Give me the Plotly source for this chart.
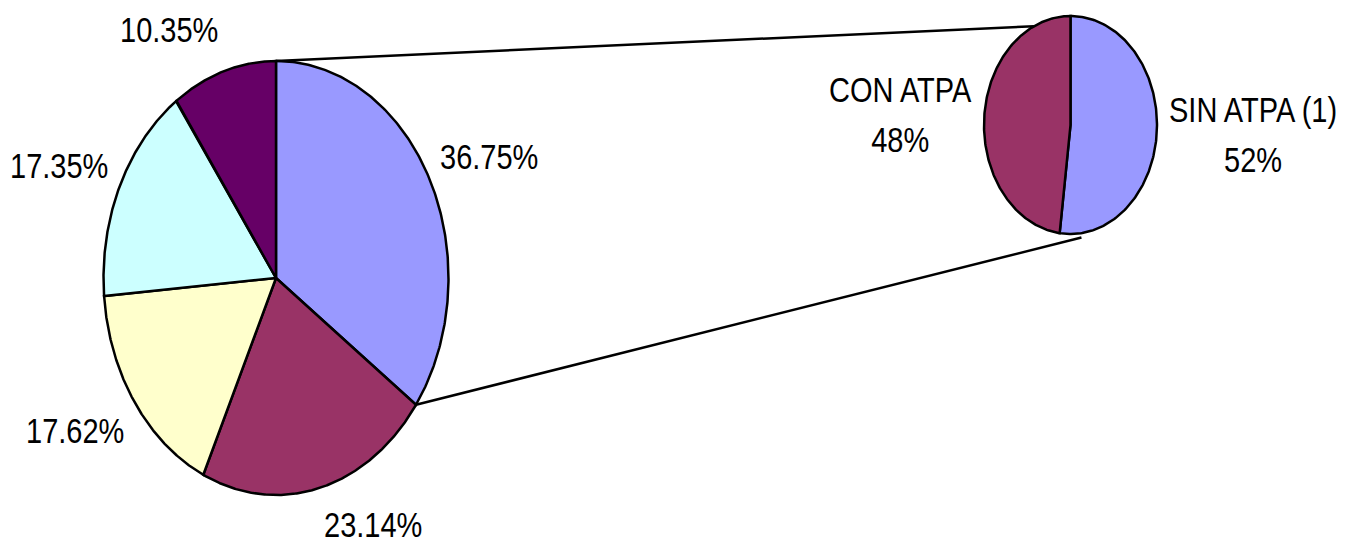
import numpy as np
import plotly.graph_objects as go

# ---- data ----
main_values = [36.75, 23.14, 17.62, 17.35, 10.35]
main_colors = ["#9999FF", "#993366", "#FFFFCC", "#CCFFFF", "#660066"]

sub_labels = ["SIN ATPA (1)", "CON ATPA"]
sub_values = [52, 48]
sub_colors = ["#9999FF", "#993366"]

# ---- layout constants (pixel space) ----
W, H = 1354, 546
MAIN = dict(cx=276, cy=278, rx=172.5, ry=217)
SUB = dict(cx=1070.5, cy=125, rx=86.5, ry=109)
PAD_X, PAD_Y, PAD_Y_MID = 10, 22, 45
FONT = dict(family="Liberation Sans, Arial", size=29, color="black")


def pt(p, ang, k=1.0):
    t = np.radians(ang)
    return p["cx"] + k * p["rx"] * np.sin(t), p["cy"] - k * p["ry"] * np.cos(t)


def wedges(fig, p, values, colors):
    vals = np.asarray(values, dtype=float)
    cum = np.concatenate([[0], np.cumsum(vals)]) / vals.sum() * 360.0
    for i, col in enumerate(colors):
        ts = np.linspace(cum[i], cum[i + 1], 200)
        xs, ys = pt(p, ts)
        xs = np.concatenate([[p["cx"]], xs, [p["cx"]]])
        ys = np.concatenate([[p["cy"]], ys, [p["cy"]]])
        fig.add_trace(go.Scatter(x=xs, y=ys, mode="lines", fill="toself",
                                 fillcolor=col, line=dict(color="black", width=2.5),
                                 hoverinfo="skip", showlegend=False))
    return cum


def label(fig, p, ang, text):
    t = np.radians(ang)
    s, c = np.sin(t), np.cos(t)
    xa = "left" if s > 0.2 else ("right" if s < -0.2 else "center")
    ya = "bottom" if c > 0.6 else ("top" if c < -0.5 else "middle")
    pad_y = PAD_Y_MID if ya == "middle" else PAD_Y
    x = p["cx"] + (p["rx"] + PAD_X) * s
    y = p["cy"] - (p["ry"] + pad_y) * c
    fig.add_annotation(x=x, y=y, text=text, showarrow=False, xanchor=xa,
                       yanchor=ya, align="center", font=FONT)


fig = go.Figure()

main_cum = wedges(fig, MAIN, main_values, main_colors)
sub_cum = wedges(fig, SUB, sub_values, sub_colors)

# connector lines: from the first slice's edges of the main pie to the sub pie
a_top = pt(MAIN, main_cum[0])
a_bot = pt(MAIN, main_cum[1])
b_top = pt(SUB, 335)
b_bot = pt(SUB, 173, 1.04)
for a, b in [(a_top, b_top), (a_bot, b_bot)]:
    fig.add_trace(go.Scatter(x=[a[0], b[0]], y=[a[1], b[1]], mode="lines",
                             line=dict(color="black", width=2.5),
                             hoverinfo="skip", showlegend=False))

for i, v in enumerate(main_values):
    label(fig, MAIN, (main_cum[i] + main_cum[i + 1]) / 2, f"{v:.2f}%")
for i, (lab, v) in enumerate(zip(sub_labels, sub_values)):
    label(fig, SUB, (sub_cum[i] + sub_cum[i + 1]) / 2, f"{lab}<br>{v}%")

fig.update_layout(
    width=W, height=H, margin=dict(l=0, r=0, t=0, b=0),
    paper_bgcolor="white", plot_bgcolor="white", showlegend=False,
    xaxis=dict(range=[0, W], visible=False, fixedrange=True),
    yaxis=dict(range=[H, 0], visible=False, fixedrange=True),
    hovermode=False,
)

post = """
document.body.style.margin='0';
document.body.style.overflow='hidden';
function stretchText(){
  document.querySelectorAll('text.annotation-text').forEach(function(t){
    t.querySelectorAll('tspan.line').forEach(function(s){
      if(s.getAttribute('dy')==='1.3em'){s.setAttribute('dy','1.45em');}
    });
    t.style.transformBox='fill-box';
    t.style.transformOrigin='center';
    t.style.transform='translate(0,-2px) scale(1,1.2)';
  });
}
stretchText();
setTimeout(stretchText, 200);
var gd=document.getElementById('{plot_id}');
if(gd && gd.on){gd.on('plotly_afterplot', stretchText);}
"""

fig.write_html("out.html", config={"displayModeBar": False}, post_script=post)
